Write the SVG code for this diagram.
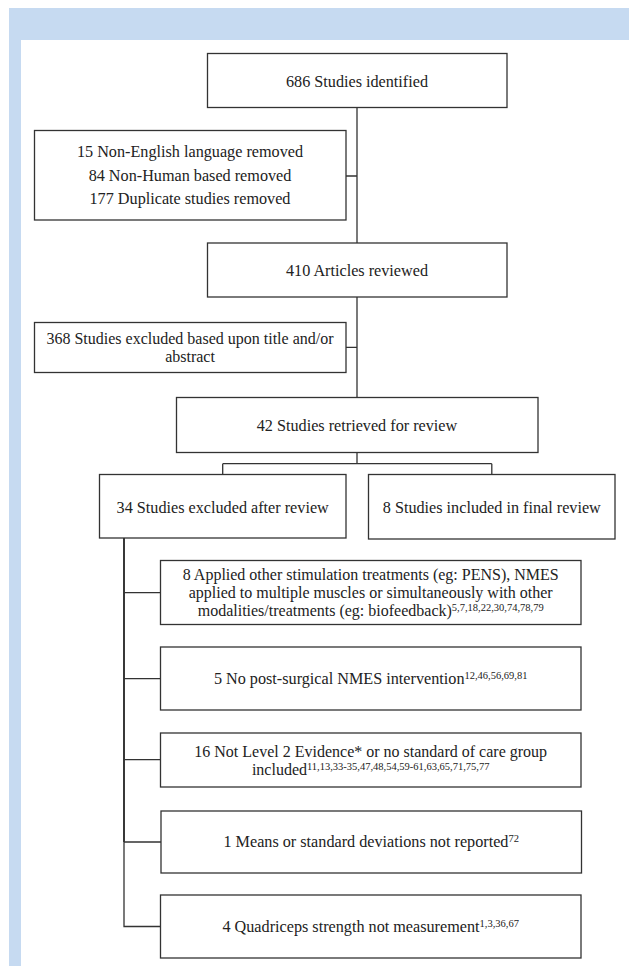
<svg xmlns="http://www.w3.org/2000/svg" width="629" height="966" viewBox="0 0 629 966">
<style>
.box{fill:#fff;stroke:#333;stroke-width:1.3}
.t{font-family:"Liberation Serif","Times New Roman",serif;font-size:16.2px;fill:#222;text-anchor:middle}
.m{font-size:16px}
.sup{font-size:10.5px}
.c{fill:none;stroke:#333;stroke-width:1.3}
.ct{fill:none;stroke:#222;stroke-width:1.8}
</style>
<rect x="0" y="0" width="629" height="966" fill="#fff"/>
<g id="background">
<rect x="9" y="8" width="620" height="32" fill="#c6daf1"/>
<rect x="9" y="8" width="12" height="958" fill="#c6daf1"/>
</g>
<g id="connectors">
<path class="c" d="M357 107.5V243M346 176H357M357 297V397.5M346 347.3H357"/>
<path class="c" d="M357 452.5V463.7M222.7 463.7H491.8M222.7 463.7V474.5M491.8 463.7V474.5"/>
<path class="ct" d="M124 538V842"/>
<path class="c" d="M124 842V926.5H160.5M124 592.7H160.5M124 678.7H160.5M124 759.7H160.5M124 842H161"/>
</g>
<g id="n1"><rect class="box" x="207.5" y="53.5" width="299.5" height="54"/><text class="t" x="357" y="87">686 Studies identified</text></g>
<g id="n2"><rect class="box" x="34.5" y="130.5" width="311.5" height="89.5"/>
<text class="t" x="190" y="156.5">15 Non-English language removed</text>
<text class="t" x="190" y="180.5">84 Non-Human based removed</text>
<text class="t" x="190" y="204">177 Duplicate studies removed</text></g>
<g id="n3"><rect class="box" x="207.5" y="243" width="299.5" height="54"/><text class="t" x="357" y="276">410 Articles reviewed</text></g>
<g id="n4"><rect class="box" x="34.5" y="322.5" width="311.5" height="50"/>
<text class="t m" x="190" y="343.5">368 Studies excluded based upon title and/or</text>
<text class="t m" x="190" y="361.5">abstract</text></g>
<g id="n5"><rect class="box" x="176.5" y="397.5" width="361.5" height="55"/><text class="t" x="357" y="430.5">42 Studies retrieved for review</text></g>
<g id="n6"><rect class="box" x="99.5" y="474.5" width="246.5" height="63.5"/><text class="t" x="222.7" y="512.5">34 Studies excluded after review</text></g>
<g id="n7"><rect class="box" x="368.5" y="474.5" width="246.5" height="64.5"/><text class="t" x="491.8" y="512.5">8 Studies included in final review</text></g>
<g id="n8"><rect class="box" x="160.5" y="560.5" width="420.5" height="64"/>
<text class="t m" x="370.7" y="579.5">8 Applied other stimulation treatments (eg: PENS), NMES</text>
<text class="t m" x="370.7" y="597.5">applied to multiple muscles or simultaneously with other</text>
<text class="t m" x="370.7" y="615.5">modalities/treatments (eg: biofeedback)<tspan class="sup" dy="-4.5">5,7,18,22,30,74,78,79</tspan></text></g>
<g id="n9"><rect class="box" x="160.5" y="647" width="420.5" height="63"/>
<text class="t" x="370.7" y="684.3">5 No post-surgical NMES intervention<tspan class="sup" dy="-5">12,46,56,69,81</tspan></text></g>
<g id="n10"><rect class="box" x="160.5" y="733" width="420.5" height="54"/>
<text class="t m" x="370.7" y="756.5">16 Not Level 2 Evidence* or no standard of care group</text>
<text class="t m" x="370.7" y="774.5">included<tspan class="sup" dy="-4.5">11,13,33-35,47,48,54,59-61,63,65,71,75,77</tspan></text></g>
<g id="n11"><rect class="box" x="161" y="811" width="420.5" height="62"/>
<text class="t" x="371.2" y="847.3">1 Means or standard deviations not reported<tspan class="sup" dy="-5">72</tspan></text></g>
<g id="n12"><rect class="box" x="160.5" y="895" width="420.5" height="63"/>
<text class="t" x="370.7" y="932">4 Quadriceps strength not measurement<tspan class="sup" dy="-5">1,3,36,67</tspan></text></g>
</svg>
